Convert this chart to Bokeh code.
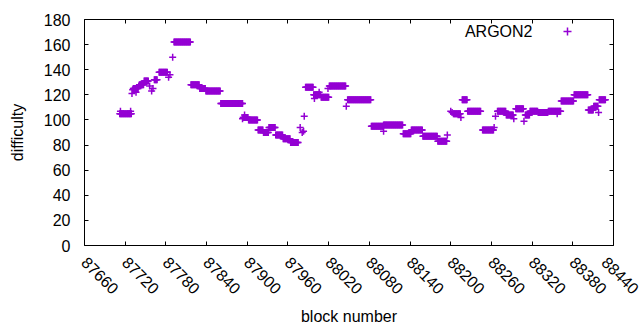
import numpy as np
from math import pi
from bokeh.plotting import figure
from bokeh.models import (Range1d, FixedTicker, LinearAxis, Legend, LegendItem, Label,
                          ColumnDataSource, CustomJSTickFormatter)
from bokeh.embed import file_html
from bokeh.resources import INLINE

# ---- data: plateaus of constant difficulty (first block, last block, value)
run_start = [87712, 87732, 87741, 87748, 87763, 87770, 87792, 87817, 87830, 87839,
             87861, 87894, 87902, 87916, 87924, 87932, 87942, 87953, 87964, 87986,
             87998, 88009, 88021, 88048, 88083, 88101, 88130, 88142, 88159, 88181,
             88204, 88217, 88225, 88247, 88269, 88282, 88296, 88310, 88317, 88329,
             88344, 88363, 88382, 88403, 88411, 88419]
run_end = [87729, 87739, 87747, 87754, 87767, 87782, 87816, 87829, 87838, 87860,
           87893, 87901, 87915, 87923, 87931, 87941, 87952, 87963, 87975, 87997,
           88008, 88020, 88045, 88082, 88100, 88129, 88141, 88158, 88180, 88194,
           88214, 88224, 88244, 88263, 88281, 88292, 88307, 88316, 88328, 88343,
           88362, 88381, 88402, 88410, 88417, 88428]
run_value = [105, 125, 128, 131, 132, 138, 162, 128, 125, 123,
             113, 102, 100, 92, 90, 94, 88, 85, 82, 126,
             120, 118, 127, 116, 95, 96, 89, 92, 87, 83,
             105, 116, 107, 92, 107, 104, 109, 104, 107, 106,
             107, 115, 120, 108, 111, 116]

# ---- isolated blocks between plateaus
single_block = [87713, 87728, 87730, 87731, 87736, 87740, 87756, 87759, 87761, 87784,
                87786, 87790, 87893, 87896, 87978, 87981, 87983, 87984, 87999, 88006,
                88019, 88046, 88101, 88195, 88200, 88202, 88215, 88264, 88266, 88293,
                88308, 88357, 88418]
single_value = [107, 107, 121, 124, 122, 127, 127, 123, 125, 134,
                136, 150, 101, 104, 94, 90, 91, 103, 117, 122,
                125, 111, 91, 88, 107, 106, 102, 94, 103, 101,
                99, 105, 106]

x_ticks = list(range(87660, 88441, 60))
y_ticks = list(range(0, 181, 20))
series_name = "ARGON2"

blocks, values = [], []
for s, e, v in zip(run_start, run_end, run_value):
    for b in range(s, e + 1):
        blocks.append(b)
        values.append(v)
blocks += single_block
values += single_value
src = ColumnDataSource(dict(block=blocks, difficulty=values))

FONT = "Liberation Sans"
COLOR = "#9400D3"

p = figure(width=640, height=330, output_backend="svg", toolbar_location=None,
           x_range=Range1d(87660, 88440), y_range=Range1d(0, 180),
           min_border_left=84, min_border_right=27, min_border_top=19, min_border_bottom=85,
           x_axis_label="block number", y_axis_label="difficulty")
p.grid.visible = False
p.outline_line_color = "black"
p.outline_line_width = 1
p.background_fill_color = "white"

r = p.scatter("block", "difficulty", source=src, marker="cross", size=7,
              line_color=COLOR, line_width=1.5)

def style(ax, ticks, labels=True):
    ax.ticker = FixedTicker(ticks=ticks)
    ax.axis_line_color = None
    ax.major_tick_in = 4
    ax.major_tick_out = 0
    ax.major_tick_line_color = "black"
    ax.minor_tick_line_color = None
    ax.major_label_text_font = FONT
    ax.major_label_text_color = "black"
    ax.major_label_text_font_size = "16px"
    ax.axis_label_text_font = FONT
    ax.axis_label_text_font_size = "16px"
    ax.axis_label_text_font_style = "normal"
    ax.axis_label_text_color = "black"
    if not labels:
        ax.formatter = CustomJSTickFormatter(code="return ''")
        ax.major_label_standoff = 0

style(p.xaxis[0], x_ticks)
style(p.yaxis[0], y_ticks)
p.xaxis[0].major_label_orientation = -pi / 4
p.xaxis[0].major_label_standoff = 14
p.xaxis[0].axis_label_standoff = 6
p.yaxis[0].major_label_standoff = 14
p.yaxis[0].axis_label_standoff = 15

top = LinearAxis()
right = LinearAxis()
style(top, x_ticks, labels=False)
style(right, y_ticks, labels=False)
p.add_layout(top, "above")
p.add_layout(right, "right")

# key: text to the left of the sample, as in the reference
p.add_layout(Label(x=448, y=214, x_units="screen", y_units="screen", text=series_name,
                   text_font=FONT, text_font_size="16px", text_align="right",
                   text_baseline="middle", text_color="black"))
leg = Legend(items=[LegendItem(label=" ", renderers=[r])], location="top_right",
             padding=0, margin=2, glyph_width=20, glyph_height=20, label_height=20,
             label_standoff=0, label_width=34, spacing=0, border_line_color=None,
             background_fill_alpha=0, label_text_font=FONT, label_text_font_size="16px")
p.add_layout(leg)

open("out.html", "w").write(file_html(p, INLINE))
